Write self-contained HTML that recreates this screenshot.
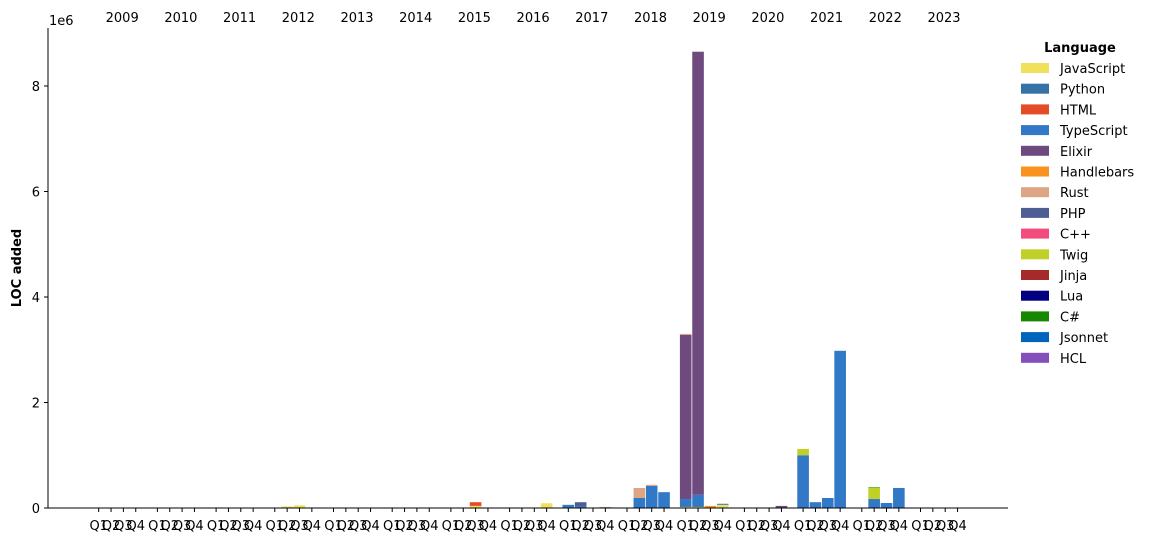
<!DOCTYPE html>
<html><head><meta charset="utf-8"><style>
body{margin:0;background:#fff;}
svg text{font-family:"DejaVu Sans","Liberation Sans",sans-serif;fill:#000;}
</style></head><body>
<svg id="chart" width="1154" height="542" xmlns="http://www.w3.org/2000/svg">
<g id="bars"></g>
<g id="axes"></g>
<g id="legend"></g>
</svg>
<script>
const years = [2009,2010,2011,2012,2013,2014,2015,2016,2017,2018,2019,2020,2021,2022,2023];
const quarters = ["Q1","Q2","Q3","Q4"];
const languages = ["JavaScript","Python","HTML","TypeScript","Elixir","Handlebars","Rust","PHP","C++","Twig","Jinja","Lua","C#","Jsonnet","HCL"];
const colors = ["#f1e05a","#3572A5","#e34c26","#3178c6","#6e4a7e","#f7931e","#dea584","#4F5D95","#f34b7d","#c1d026","#a52a2a","#000080","#178600","#0064bd","#844FBA"];
// values in millions: [year, quarterIndex, language, value]
const records = [
 [2012,1,"JavaScript",0.03],[2012,2,"JavaScript",0.05],
 [2015,1,"JavaScript",0.01],[2015,2,"JavaScript",0.04],[2015,2,"HTML",0.07],
 [2016,0,"JavaScript",0.01],[2016,3,"JavaScript",0.09],
 [2017,0,"HTML",0.01],[2017,0,"TypeScript",0.05],[2017,1,"TypeScript",0.03],[2017,1,"PHP",0.08],[2017,3,"Rust",0.02],
 [2018,1,"TypeScript",0.19],[2018,1,"Rust",0.19],[2018,2,"TypeScript",0.42],[2018,2,"Rust",0.02],[2018,3,"TypeScript",0.30],
 [2019,0,"JavaScript",0.02],[2019,0,"TypeScript",0.15],[2019,0,"Elixir",3.11],[2019,0,"Rust",0.02],
 [2019,1,"JavaScript",0.02],[2019,1,"TypeScript",0.23],[2019,1,"Elixir",8.40],
 [2019,2,"TypeScript",0.01],[2019,2,"Handlebars",0.03],
 [2019,3,"JavaScript",0.06],[2019,3,"TypeScript",0.02],
 [2020,3,"TypeScript",0.01],[2020,3,"Elixir",0.03],
 [2021,0,"TypeScript",1.00],[2021,0,"Twig",0.12],[2021,1,"TypeScript",0.11],[2021,2,"TypeScript",0.19],[2021,3,"TypeScript",2.98],
 [2022,1,"TypeScript",0.17],[2022,1,"Twig",0.215],[2022,1,"C#",0.01],[2022,2,"TypeScript",0.095],[2022,3,"TypeScript",0.38]
];
const yTicks = [0,2,4,6,8];

const NS="http://www.w3.org/2000/svg";
function mk(tag,attrs,parent){const e=document.createElementNS(NS,tag);for(const k in attrs)e.setAttribute(k,attrs[k]);parent.appendChild(e);return e;}
const x0=48,x1=1008,yBase=508,pxPerM=52.75;
function xPos(yi,q){return 98.7+yi*58.7+q*12.35;}
function yPos(v){return yBase-v*pxPerM;}
const barW=11.6;
const barsG=document.getElementById('bars');
const stacks={};
languages.forEach((lang,li)=>{
  records.forEach(r=>{
    if(r[2]!==lang)return;
    const key=r[0]+"-"+r[1];
    const base=stacks[key]||0;
    const top=base+r[3];
    stacks[key]=top;
    const cx=xPos(years.indexOf(r[0]),r[1]);
    const rect=mk('rect',{x:cx-barW/2,y:yPos(top),width:barW,height:yPos(base)-yPos(top),fill:colors[li]},barsG);
    
    
  });
});
const ax=document.getElementById('axes');
let l=mk('line',{x1:x0,y1:28,x2:x0,y2:yBase,stroke:'#000','stroke-width':1},ax);

l=mk('line',{x1:x0,y1:yBase,x2:x1,y2:yBase,stroke:'#000','stroke-width':1},ax);

yTicks.forEach(t=>{
  const y=yPos(t);
  const tk=mk('line',{x1:x0-4,y1:y,x2:x0,y2:y,stroke:'#000'},ax);
  
  const tx=mk('text',{x:x0-8,y:y+5,'text-anchor':'end','font-size':13},ax);
  tx.textContent=t;
  
});
let t=mk('text',{x:49,y:25,'font-size':13},ax);t.textContent='1e6';

t=mk('text',{x:21,y:268,'font-size':13,'font-weight':'bold','text-anchor':'middle',transform:'rotate(-90 21 268)'},ax);t.textContent='LOC added';

years.forEach((yr,yi)=>{
  const yt=mk('text',{x:xPos(yi,0)+23.5,y:22,'font-size':13,'text-anchor':'middle'},ax);yt.textContent=yr;
  
  quarters.forEach((q,qi)=>{
    const cx=xPos(yi,qi);
    const tk=mk('line',{x1:cx,y1:yBase,x2:cx,y2:yBase+4,stroke:'#000'},ax);
    
    const qt=mk('text',{x:cx,y:yBase+22,'font-size':13,'text-anchor':'middle'},ax);qt.textContent=q;
    
  });
});
const lg=document.getElementById('legend');
t=mk('text',{x:1080,y:52,'font-size':13,'font-weight':'bold','text-anchor':'middle'},lg);t.textContent='Language';

languages.forEach((lang,i)=>{
  const y=63+i*20.7;
  const g=mk('g',{},lg);
  
  mk('rect',{x:1021,y:y,width:28,height:10,fill:colors[i]},g);
  const tx=mk('text',{x:1060,y:y+10,'font-size':13},g);tx.textContent=lang;
});
</script>
</body></html>
